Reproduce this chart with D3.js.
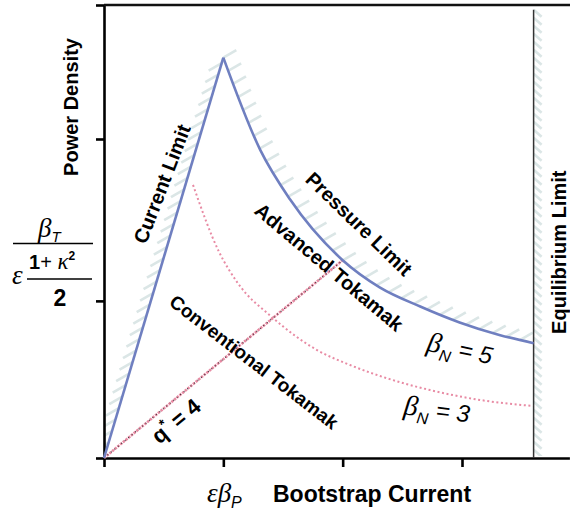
<!DOCTYPE html>
<html>
<head>
<meta charset="utf-8">
<script src="https://cdn.jsdelivr.net/npm/d3@7"></script>
<style>
  body { margin: 0; background: #fff; }
  svg { display: block; font-family: "Liberation Sans", Arial, sans-serif; }
</style>
</head>
<body>
<div id="chart"></div>
<script>
// values (x in eps*beta_p units, y in power density units)
const xTicks = [0, 1, 2, 3];
const yTicks = [0, 0.985, 2, 2.84];

const currentLimit = [[0, 0], [1.0, 2.51]];
const pressureLimit = [[1.0, 2.51], [1.31, 1.93], [1.56, 1.62], [2.0, 1.24], [2.31, 1.07],
                       [2.65, 0.95], [2.98, 0.85], [3.32, 0.77], [3.6, 0.72]];
const betaN3 = [[0.746, 1.712], [0.964, 1.292], [1.115, 1.103], [1.416, 0.878], [1.785, 0.677],
                [2.062, 0.583], [2.313, 0.514], [2.732, 0.426], [3.151, 0.364], [3.595, 0.326]];
const qStar4 = [[0, 0], [2.0, 1.24]];
const equilibrium = [[3.6, 2.81], [3.6, 0]];

const width = 570, height = 511;
const blue = "#6f7fc0", pink = "#e88ba4", hatchColor = "#dbe6e6";

const svg = d3.select("#chart").append("svg")
    .attr("width", width)
    .attr("height", height);

const x = d3.scaleLinear().domain([0, 3.9]).range([104, 569.4]);
const y = d3.scaleLinear().domain([0, 2.84]).range([458, 5]);

const line = d3.line().x(d => x(d[0])).y(d => y(d[1]));
const curve = d3.line().x(d => x(d[0])).y(d => y(d[1])).curve(d3.curveMonotoneX);

// clip for the hatching so it stays inside the axes
svg.append("clipPath").attr("id", "plotClip")
    .append("rect").attr("x", 105).attr("y", 0).attr("width", width - 105).attr("height", 456);

const hatchG = svg.append("g").attr("clip-path", "url(#plotClip)");

// draws short strokes along a path, used for the "forbidden side" of the limits
function hatch(pathData, gen, step, dx, dy, start, stop) {
    let p = hatchG.append("path").attr("d", gen(pathData)).attr("fill", "none").attr("stroke", "none");
    let node = p.node();
    let L = node.getTotalLength();
    let pts = d3.range(start, L - stop, step).map(s => node.getPointAtLength(s));
    hatchG.selectAll(null).data(pts).join("line")
        .attr("x1", d => d.x).attr("y1", d => d.y)
        .attr("x2", d => d.x + dx).attr("y2", d => d.y + dy)
        .attr("stroke", hatchColor)
        .attr("stroke-width", 2.6);
}

hatch(currentLimit, line, 12, -13, 7.5, 4, 0);
hatch(pressureLimit, curve, 14, 13, -7.5, 0, 6);
hatch(equilibrium, line, 8, 8, 7, 0, 4);

// axes
const xAxis = d3.axisBottom(x).tickValues(xTicks).tickSizeInner(9).tickSizeOuter(0).tickFormat("");
const yAxis = d3.axisLeft(y).tickValues(yTicks).tickSizeInner(8).tickSizeOuter(0).tickFormat("");

svg.append("g").attr("class", "x-axis")
    .attr("transform", `translate(0, ${y(0)})`)
    .call(xAxis)
    .call(g => g.selectAll("path, line").attr("stroke", "#000").attr("stroke-width", 2.6));

svg.append("g").attr("class", "y-axis")
    .attr("transform", `translate(${x(0)}, 0)`)
    .call(yAxis)
    .call(g => g.selectAll("path, line").attr("stroke", "#000").attr("stroke-width", 2.6));

// top frame line
svg.append("line")
    .attr("x1", x(0)).attr("x2", width)
    .attr("y1", y(2.84)).attr("y2", y(2.84))
    .attr("stroke", "#111").attr("stroke-width", 2.6);

// equilibrium limit
svg.append("path").attr("d", line(equilibrium))
    .attr("fill", "none").attr("stroke", "#333").attr("stroke-width", 1.5);

// beta_N = 3
svg.append("path").attr("d", curve(betaN3))
    .attr("fill", "none").attr("stroke", pink).attr("stroke-width", 2)
    .attr("stroke-dasharray", "2,2.6");

// q* = 4
svg.append("path").attr("d", line(qStar4))
    .attr("fill", "none").attr("stroke", pink).attr("stroke-width", 2.6)
    .attr("stroke-dasharray", "2.5,1");
svg.append("path").attr("d", line(qStar4))
    .attr("fill", "none").attr("stroke", "#333").attr("stroke-width", 1.1)
    .attr("stroke-dasharray", "1,3.5");

// current and pressure limits
svg.append("path").attr("d", line(currentLimit))
    .attr("fill", "none").attr("stroke", blue).attr("stroke-width", 2.6);
svg.append("path").attr("d", curve(pressureLimit))
    .attr("fill", "none").attr("stroke", blue).attr("stroke-width", 2.6);

// rotated labels inside the plot
function label(ux, uy, angle) {
    return svg.append("g")
        .attr("transform", `translate(${x(ux)}, ${y(uy)}) rotate(${angle})`)
        .append("text")
        .attr("text-anchor", "middle")
        .attr("dy", "0.35em");
}

label(0.486, 1.718, -69).text("Current Limit")
    .attr("font-size", 20).attr("font-weight", "bold");
label(2.137, 1.467, 44).text("Pressure Limit")
    .attr("font-size", 20).attr("font-weight", "bold");
label(1.886, 1.197, 40).text("Advanced Tokamak")
    .attr("font-size", 20).attr("font-weight", "bold");
label(1.257, 0.602, 37.5).text("Conventional Tokamak")
    .attr("font-size", 19).attr("font-weight", "bold");

let q = label(0.603, 0.232, -39.6).attr("font-size", 22).attr("font-weight", "bold");
q.append("tspan").text("q");
q.append("tspan").text("*").attr("font-size", 14).attr("dy", -9);
q.append("tspan").text(" = 4").attr("dy", 9);

function betaLabel(ux, uy, angle, value) {
    let t = label(ux, uy, angle).attr("font-size", 24).attr("font-style", "italic");
    t.append("tspan").text("β").attr("font-family", "'Liberation Serif', serif").attr("font-size", 28);
    t.append("tspan").text("N").attr("font-size", 16).attr("dy", 7);
    t.append("tspan").text(" = " + value).attr("dy", -7);
}
betaLabel(2.983, 0.683, 12, 5);
betaLabel(2.79, 0.301, 7, 3);

label(3.81, 1.29, -90).text("Equilibrium Limit")
    .attr("font-size", 20).attr("font-weight", "bold");

// y axis title
svg.append("text")
    .attr("transform", "translate(71, 107) rotate(-90)")
    .attr("text-anchor", "middle").attr("dy", "0.35em")
    .attr("font-size", 20).attr("font-weight", "bold")
    .text("Power Density");

// fraction  beta_T / (eps (1+kappa^2)/2)
const serif = "'Liberation Serif', serif";
let bt = svg.append("text").attr("x", 38).attr("y", 237).attr("font-style", "italic");
bt.append("tspan").text("β").attr("font-family", serif).attr("font-size", 27);
bt.append("tspan").text("T").attr("font-size", 15).attr("dy", 5);

svg.append("line").attr("x1", 13).attr("x2", 93).attr("y1", 243.5).attr("y2", 243.5)
    .attr("stroke", "#000").attr("stroke-width", 1.4);

svg.append("text").attr("x", 12).attr("y", 284)
    .attr("font-family", serif).attr("font-style", "italic").attr("font-size", 27)
    .text("ε");

let kap = svg.append("text").attr("x", 29).attr("y", 269).attr("font-size", 20);
kap.append("tspan").text("1").attr("font-weight", "bold");
kap.append("tspan").text("+ ");
kap.append("tspan").text("κ").attr("font-family", serif).attr("font-style", "italic").attr("font-size", 23);
kap.append("tspan").text("2").attr("font-weight", "bold").attr("font-size", 12).attr("dy", -9);

svg.append("line").attr("x1", 27).attr("x2", 92).attr("y1", 279).attr("y2", 279)
    .attr("stroke", "#000").attr("stroke-width", 1.4);

svg.append("text").attr("x", 60).attr("y", 306)
    .attr("text-anchor", "middle").attr("font-size", 23).attr("font-weight", "bold")
    .text("2");

// x axis title
let xt = svg.append("text").attr("x", 207).attr("y", 502);
xt.append("tspan").text("εβ").attr("font-family", serif).attr("font-style", "italic").attr("font-size", 27);
xt.append("tspan").text("P").attr("font-style", "italic").attr("font-size", 16).attr("dy", 6);
svg.append("text").attr("x", 273).attr("y", 502)
    .attr("font-size", 23).attr("font-weight", "bold")
    .text("Bootstrap Current");
</script>
</body>
</html>
